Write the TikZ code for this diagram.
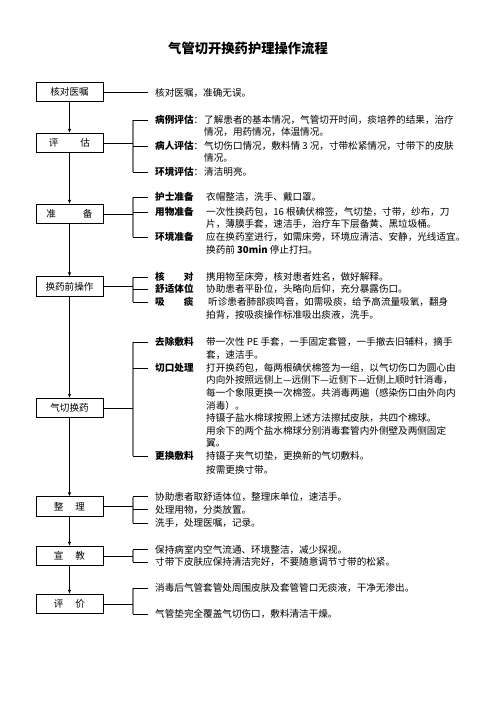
\documentclass[tikz,border=0pt]{standalone}
\usepackage{fontspec}
\setmainfont{Noto Sans CJK SC}
\usetikzlibrary{arrows.meta}
\newcommand\fs{\fontsize{9.6}{11}\selectfont}
\newcommand\spread[1]{\makebox[38.4pt][s]{#1}}
\begin{document}
\begin{tikzpicture}[x=1pt,y=-1pt,
  flowbox/.style={draw,line width=0.7pt,minimum width=67pt,minimum height=19.5pt,inner sep=0pt,font=\fs},
  txt/.style={anchor=west,inner sep=0pt,font=\fs},
  flow/.style={line width=0.7pt,-{Latex[length=4pt,width=3.5pt]}},
  conn/.style={line width=0.7pt},
  brk/.style={draw=black!50,line width=1.8pt},
  tk/.style={line width=0.7pt}]
\useasboundingbox[fill=white] (0,0) rectangle (496,702);

\node[font=\fontsize{13.3}{15}\selectfont\bfseries] (title) at (248,48) {气管切开换药护理操作流程};

% boxes
\node[flowbox] (b1) at (69.5,92) {核对医嘱};
\node[flowbox] (b2) at (69.5,143) {评\hspace{22pt}估};
\node[flowbox] (b3) at (69.5,214) {准\hspace{27pt}备};
\node[flowbox] (b4) at (69.5,286.5) {换药前操作};
\node[flowbox] (b5) at (69.5,408) {气切换药};
\node[flowbox] (b6) at (69.5,506.5) {整\hspace{12pt}理};
\node[flowbox] (b7) at (69.5,556) {宣\hspace{12pt}教};
\node[flowbox] (b8) at (69.5,604) {评\hspace{12pt}价};

\draw[flow] (b1.south) -- (b2.north);
\draw[flow] (b2.south) -- (b3.north);
\draw[flow] (b3.south) -- (b4.north);
\draw[flow] (b4.south) -- (b5.north);
\draw[flow] (b5.south) -- (b6.north);
\draw[flow] (b6.south) -- (b7.north);
\draw[flow] (b7.south) -- (b8.north);

% group 1
\node[txt] (t1) at (155,93) {核对医嘱，准确无误。};
\draw[conn] (b1.east) -- ([xshift=-7pt]t1.west |- b1.east);

% group 2
\coordinate (j2) at (133,143);
\node[txt] (l2a) at (155,120) {{\bfseries 病例评估}：};
\node[txt] (l2b) at (155,146) {{\bfseries 病人评估}：};
\node[txt] (l2c) at (155,172) {{\bfseries 环境评估}：};
\node[txt] (t2a) at (204,120) {了解患者的基本情况，气管切开时间，痰培养的结果，治疗};
\node[txt] (t2b) at (204,131.5) {情况，用药情况，体温情况。};
\node[txt] (t2c) at (204,146) {气切伤口情况，敷料情 3 况，寸带松紧情况，寸带下的皮肤};
\node[txt] (t2d) at (204,157.5) {情况。};
\node[txt] (t2e) at (204,172) {清洁明亮。};
\draw[brk] (j2 |- l2a.west) -- (j2 |- l2c.west);
\draw[conn] (b2.east) -- (j2);
\foreach \n in {l2a,l2b,l2c} \draw[tk] (j2 |- \n.west) -- ([xshift=-7pt]\n.west);

% group 3
\coordinate (j3) at (133,214);
\node[txt] (l3a) at (155,197) {\bfseries 护士准备};
\node[txt] (l3b) at (155,212) {\bfseries 用物准备};
\node[txt] (l3c) at (155,237) {\bfseries 环境准备};
\node[txt] (t3a) at (206,197) {衣帽整洁，洗手、戴口罩。};
\node[txt] (t3b) at (206,212) {一次性换药包，16 根碘伏棉签，气切垫，寸带，纱布，刀};
\node[txt] (t3c) at (206,224) {片，薄膜手套，速洁手，治疗车下层备黄、黑垃圾桶。};
\node[txt] (t3d) at (206,237) {应在换药室进行，如需床旁，环境应清洁、安静，光线适宜。};
\node[txt] (t3e) at (206,250) {换药前 \textbf{30min} 停止打扫。};
\draw[brk] (j3 |- l3a.west) -- (j3 |- l3c.west);
\draw[conn] (b3.east) -- (j3);
\foreach \n in {l3a,l3b,l3c} \draw[tk] (j3 |- \n.west) -- ([xshift=-7pt]\n.west);

% group 4
\coordinate (j4) at (133,288.5);
\node[txt] (l4a) at (155,277) {\bfseries\spread{核\hfill 对}};
\node[txt] (l4b) at (155,289) {\bfseries 舒适体位};
\node[txt] (l4c) at (155,302) {\bfseries\spread{吸\hfill 痰}};
\node[txt] (t4a) at (206,277) {携用物至床旁，核对患者姓名，做好解释。};
\node[txt] (t4b) at (206,289) {协助患者平卧位，头略向后仰，充分暴露伤口。};
\node[txt] (t4c) at (208,302) {听诊患者肺部痰鸣音，如需吸痰，给予高流量吸氧，翻身};
\node[txt] (t4d) at (206,314.5) {拍背，按吸痰操作标准吸出痰液，洗手。};
\draw[brk] (j4 |- l4a.west) -- (j4 |- l4c.west);
\draw[conn] (b4.east) -- (b4.east -| j4);
\foreach \n in {l4a,l4b,l4c} \draw[tk] (j4 |- \n.west) -- ([xshift=-7pt]\n.west);

% group 5
\coordinate (j5) at (133,407);
\node[txt] (l5a) at (155,342) {\bfseries 去除敷料};
\node[txt] (l5b) at (155,368) {\bfseries 切口处理};
\node[txt] (l5c) at (155,456) {\bfseries 更换敷料};
\node[txt] (t5a) at (206,342) {带一次性 PE 手套，一手固定套管，一手撤去旧辅料，摘手};
\node[txt] (t5b) at (206,355) {套，速洁手。};
\node[txt] (t5c) at (206,368) {打开换药包，每两根碘伏棉签为一组，以气切伤口为圆心由};
\node[txt] (t5d) at (206,380) {内向外按照远侧上—远侧下—近侧下—近侧上顺时针消毒，};
\node[txt] (t5e) at (206,393) {每一个象限更换一次棉签。共消毒两遍（感染伤口由外向内};
\node[txt] (t5f) at (206,405.5) {消毒）。};
\node[txt] (t5g) at (206,418) {持镊子盐水棉球按照上述方法擦拭皮肤，共四个棉球。};
\node[txt] (t5h) at (206,431) {用余下的两个盐水棉球分别消毒套管内外侧壁及两侧固定};
\node[txt] (t5i) at (206,443.5) {翼。};
\node[txt] (t5j) at (206,456) {持镊子夹气切垫，更换新的气切敷料。};
\node[txt] (t5k) at (206,469.5) {按需更换寸带。};
\draw[brk] (j5 |- l5a.west) -- (j5 |- l5c.west);
\draw[conn] (b5.east) -- (b5.east -| j5);
\foreach \n in {l5a,l5b,l5c} \draw[tk] (j5 |- \n.west) -- ([xshift=-7pt]\n.west);

% group 6
\coordinate (j6) at (133,506.5);
\node[txt] (t6a) at (155,496.5) {协助患者取舒适体位，整理床单位，速洁手。};
\node[txt] (t6b) at (155,509.5) {处理用物，分类放置。};
\node[txt] (t6c) at (155,523) {洗手，处理医嘱，记录。};
\draw[brk] (j6 |- t6a.west) -- (j6 |- t6c.west);
\draw[conn] (b6.east) -- (j6);
\foreach \n in {t6a,t6b,t6c} \draw[tk] (j6 |- \n.west) -- ([xshift=-7pt]\n.west);

% group 7
\coordinate (j7) at (133,556);
\node[txt] (t7a) at (155,549.5) {保持病室内空气流通、环境整洁，减少探视。};
\node[txt] (t7b) at (155,562) {寸带下皮肤应保持清洁完好，不要随意调节寸带的松紧。};
\draw[brk] (j7 |- t7a.west) -- (j7 |- t7b.west);
\draw[conn] (b7.east) -- (j7);
\foreach \n in {t7a,t7b} \draw[tk] (j7 |- \n.west) -- ([xshift=-7pt]\n.west);

% group 8
\coordinate (j8) at (133,604);
\node[txt] (t8a) at (155,588) {消毒后气管套管处周围皮肤及套管管口无痰液，干净无渗出。};
\node[txt] (t8b) at (155,614) {气管垫完全覆盖气切伤口，敷料清洁干燥。};
\draw[brk] (j8 |- t8a.west) -- (j8 |- t8b.west);
\draw[conn] (b8.east) -- (j8);
\foreach \n in {t8a,t8b} \draw[tk] (j8 |- \n.west) -- ([xshift=-7pt]\n.west);
\end{tikzpicture}
\end{document}
